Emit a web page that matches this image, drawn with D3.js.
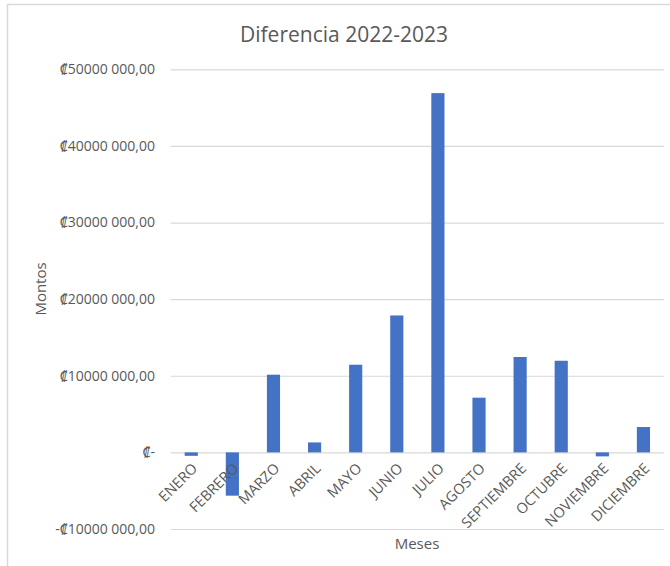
<!DOCTYPE html>
<html>
<head>
<meta charset="utf-8">
<script src="https://cdn.jsdelivr.net/npm/d3@7"></script>
<style>
  html, body { margin: 0; padding: 0; background: #fff; }
  svg { display: block; }
</style>
</head>
<body>
<svg id="chart" width="670" height="566"></svg>
<script>
const categories = ["ENERO","FEBRERO","MARZO","ABRIL","MAYO","JUNIO","JULIO","AGOSTO","SEPTIEMBRE","OCTUBRE","NOVIEMBRE","DICIEMBRE"];
const values = [-450000, -5650000, 10140000, 1300000, 11440000, 17870000, 46890000, 7140000, 12450000, 11960000, -520000, 3310000];
const yTicks = [-10000000, 0, 10000000, 20000000, 30000000, 40000000, 50000000];
const yTickLabels = ["-₡10000 000,00", "₡-", "₡10000 000,00", "₡20000 000,00", "₡30000 000,00", "₡40000 000,00", "₡50000 000,00"];
const title = "Diferencia 2022-2023";
const xTitle = "Meses";
const yTitle = "Montos";

const svg = d3.select("#chart");
const font = "'Open Sans', 'Noto Sans', sans-serif";
const textColor = "#595959";

// chart frame
svg.append("line").attr("x1", 7.5).attr("x2", 7.5).attr("y1", 4).attr("y2", 566)
  .attr("stroke", "#d9d9d9").attr("stroke-width", 1.5);
svg.append("line").attr("x1", 7).attr("x2", 670).attr("y1", 4.5).attr("y2", 4.5)
  .attr("stroke", "#d9d9d9").attr("stroke-width", 1.5);

const x = d3.scaleBand().domain(categories).range([170.7, 664]).paddingInner(0.68).paddingOuter(0.34);
const y = d3.scaleLinear().domain([-10000000, 50000000]).range([529, 69.3]);

// gridlines
const grid = svg.append("g")
  .attr("transform", "translate(170.7,0)")
  .call(d3.axisLeft(y).tickValues(yTicks).tickSize(-(664 - 170.7)).tickFormat(""));
grid.select(".domain").remove();
grid.selectAll("line").attr("stroke", "#d9d9d9").attr("stroke-width", 1.2);

// y labels
svg.append("g").selectAll("text").data(yTicks).join("text")
  .attr("x", 155).attr("y", d => y(d)).attr("dy", "0.35em")
  .attr("text-anchor", "end").attr("font-family", font).attr("font-size", 14)
  .attr("fill", textColor).text((d, i) => yTickLabels[i]);

// bars
svg.append("g").selectAll("rect").data(values).join("rect")
  .attr("x", (d, i) => x(categories[i]))
  .attr("width", x.bandwidth())
  .attr("y", d => y(Math.max(0, d)))
  .attr("height", d => Math.abs(y(d) - y(0)))
  .attr("fill", "#4472c4");

// x labels rotated
svg.append("g").selectAll("text").data(categories).join("text")
  .attr("text-anchor", "end")
  .attr("font-family", font).attr("font-size", 14.5).attr("fill", textColor)
  .attr("transform", d => `translate(${x(d) + x.bandwidth() / 2 + 7},${y(0) + 17}) rotate(-45)`)
  .text(d => d);

// title
svg.append("text").attr("x", 344).attr("y", 42).attr("text-anchor", "middle")
  .attr("font-family", font).attr("font-size", 21).attr("fill", textColor).text(title);

// axis titles
svg.append("text").attr("x", 417).attr("y", 549).attr("text-anchor", "middle")
  .attr("font-family", font).attr("font-size", 15).attr("fill", textColor).text(xTitle);
svg.append("text").attr("transform", "translate(46,289) rotate(-90)").attr("text-anchor", "middle")
  .attr("font-family", font).attr("font-size", 15).attr("fill", textColor).text(yTitle);
</script>
</body>
</html>
